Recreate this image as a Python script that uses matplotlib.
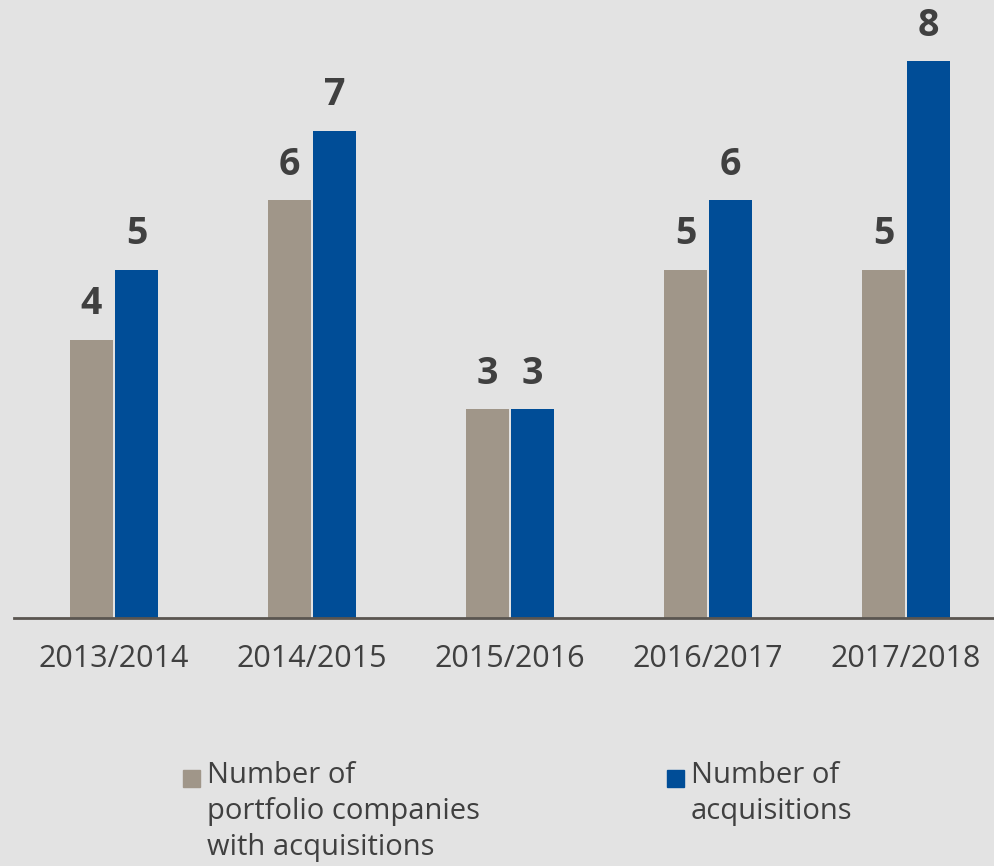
import numpy as np
import matplotlib.pyplot as plt
from matplotlib.patches import Rectangle

# Данные
periods = ['2013/2014', '2014/2015', '2015/2016', '2016/2017', '2017/2018']
companies = [4, 6, 3, 5, 5]
acquisitions = [5, 7, 3, 6, 8]
legend_labels = ['Number of\nportfolio companies\nwith acquisitions',
                 'Number of\nacquisitions']

bg = '#e3e3e3'
c_gray = '#a09689'
c_blue = '#004d97'
txt = '#404040'

plt.rcParams['font.family'] = ['Open Sans', 'DejaVu Sans']

fig = plt.figure(figsize=(9.94, 8.66), dpi=100, facecolor=bg)
ax = fig.add_axes([14/994, 248/866, 980/994, 618/866])
ax.set_facecolor(bg)

x = np.arange(len(periods))
w = 0.217
off = 0.1136
b1 = ax.bar(x - off, companies, w, color=c_gray)
b2 = ax.bar(x + off, acquisitions, w, color=c_blue)

for bars, vals in [(b1, companies), (b2, acquisitions)]:
    for bar, v in zip(bars, vals):
        ax.annotate(str(v), (bar.get_x() + bar.get_width()/2, v),
                    xytext=(0, 12), textcoords='offset points',
                    ha='center', va='bottom', fontsize=27, fontweight='bold', color=txt)

ax.set_xlim(-100/198, 880/198)
ax.set_ylim(0, 618/69.6)
ax.set_xticks(x)
ax.set_xticklabels(periods, fontsize=22, color=txt)
ax.tick_params(axis='x', length=0, pad=19)
ax.set_yticks([])
for s in ['top', 'right', 'left']:
    ax.spines[s].set_visible(False)
ax.spines['bottom'].set_color('#5a5550')
ax.spines['bottom'].set_linewidth(2)

# Легенда: квадрат выровнен по первой строке подписи
for (sx, tx), col, lab in zip([(183, 207), (667, 691)], [c_gray, c_blue], legend_labels):
    fig.patches.append(Rectangle((sx/994, 1 - 787/866), 17/994, 17/866,
                                 transform=fig.transFigure, color=col))
    fig.text(tx/994, 1 - 761/866, lab, ha='left', va='top', fontsize=21,
             color=txt, linespacing=1.32)

fig.savefig('out.png', dpi=100, facecolor=bg)
